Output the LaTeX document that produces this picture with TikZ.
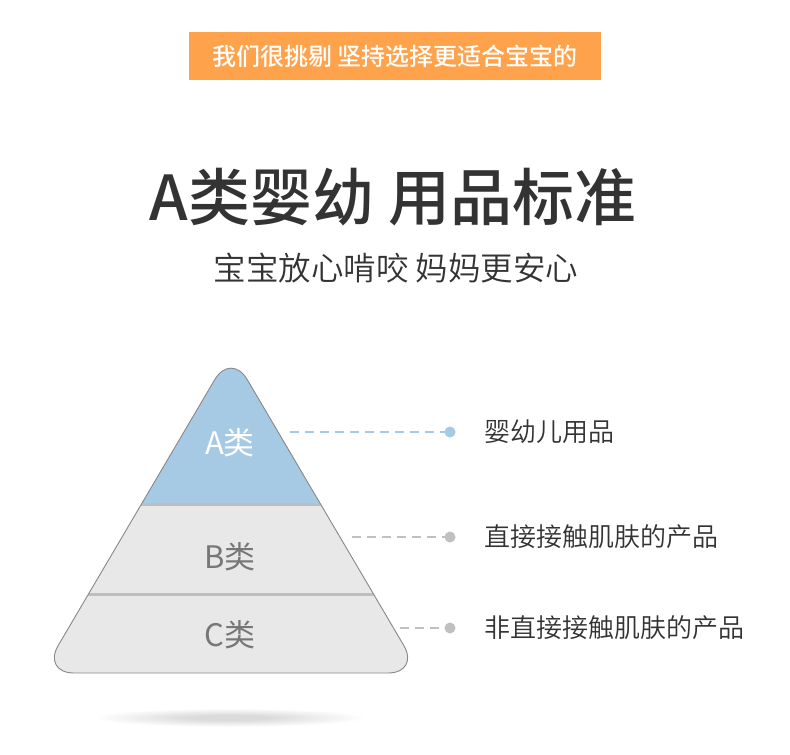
\documentclass[tikz,border=0pt]{standalone}
\usepackage{fontspec}
\setmainfont{Noto Sans CJK SC}
\newfontfamily\medfont{Noto Sans CJK SC Medium}
\newfontfamily\lightfont{Noto Sans CJK SC DemiLight}
\definecolor{bannerorange}{RGB}{255,162,76}
\definecolor{tierblue}{RGB}{166,201,228}
\definecolor{tiergray}{RGB}{232,232,232}
\definecolor{bandgray}{RGB}{190,190,190}
\definecolor{edgegray}{RGB}{136,136,136}
\definecolor{darktext}{RGB}{51,51,51}
\definecolor{midtext}{RGB}{119,119,119}
\definecolor{dotgray}{RGB}{192,192,192}
\tikzset{
  lbl/.style={anchor=west,inner sep=0pt,text=darktext,font=\lightfont\fontsize{26}{26}\selectfont},
  tier/.style={inner sep=0pt,font=\fontsize{31}{31}\selectfont},
  lead/.style={dash pattern=on 9pt off 6pt,line width=1.6pt},
  leaddot/.style={circle,inner sep=0pt,minimum size=11pt}
}
\begin{document}
\begin{tikzpicture}[x=1pt,y=-1pt]
\useasboundingbox (0,0) rectangle (790,755);
\fill[white] (0,0) rectangle (790,755);
% banner
\fill[bannerorange] (189,32) rectangle (601,80);
\node[inner sep=0pt,text=white,font=\medfont\fontsize{24}{24}\selectfont] (banner) at (395,56) {我们很挑剔 坚持选择更适合宝宝的};
% titles
\node[inner sep=0pt,text=darktext,font=\medfont\fontsize{62}{62}\selectfont] (title) at (393,197) {A类婴幼 用品标准};
\node[inner sep=0pt,text=darktext,font=\lightfont\fontsize{32.5}{32.5}\selectfont] (subtitle) at (396,268) {宝宝放心啃咬 妈妈更安心};
% shadow
\foreach \i in {0,...,11}
  \fill[black,opacity=0.012] (230,718) ellipse ({132-\i*8} and {9-\i*0.55});
% pyramid
\def\pyr{(231,673) -- (420,673) -- (231,352) -- (42,673) -- cycle}
\begin{scope}
  \clip[rounded corners=32pt] \pyr;
  \fill[tiergray] (0,300) rectangle (790,700);
  \fill[tierblue] (0,300) rectangle (790,504.5);
  \draw[bandgray,line width=3.5pt] (0,504.5) -- (790,504.5);
  \draw[bandgray,line width=3.5pt] (0,594.5) -- (790,594.5);
\end{scope}
\draw[edgegray,line width=0.9pt,rounded corners=32pt] \pyr;
\node[tier,text=white] (ta) at (230,443) {A类};
\node[tier,text=midtext] (tb) at (230,557) {B类};
\node[tier,text=midtext] (tc) at (230,635) {C类};
% leaders
\coordinate (sa) at (290,432);
\coordinate (sb) at (352,537);
\coordinate (sc) at (400,628);
\node[leaddot,fill=tierblue] (da) at (450,432) {};
\node[leaddot,fill=dotgray] (db) at (450,537) {};
\node[leaddot,fill=dotgray] (dc) at (450,628) {};
\draw[lead,tierblue] (sa) -- (da.center);
\draw[lead,dotgray] (sb) -- (db.center);
\draw[lead,dotgray] (sc) -- (dc.center);
\node[lbl] (la) at (484,432) {婴幼儿用品};
\node[lbl] (lb) at (484,537) {直接接触肌肤的产品};
\node[lbl] (lc) at (484,628) {非直接接触肌肤的产品};
\end{tikzpicture}
\end{document}
